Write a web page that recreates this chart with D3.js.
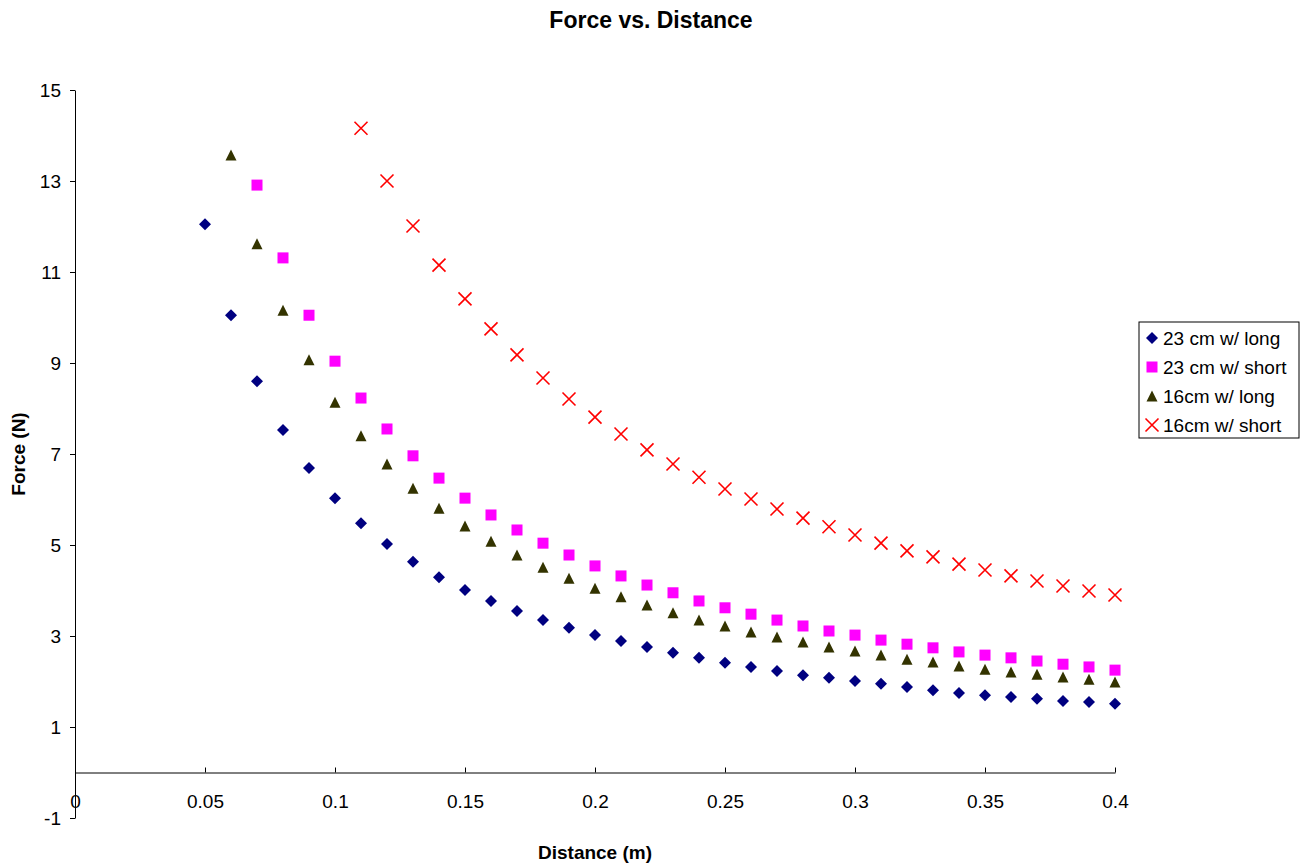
<!DOCTYPE html>
<html lang="en">
<head>
    <meta charset="UTF-8">
    <title>Force vs. Distance</title>
    <script src="https://cdn.jsdelivr.net/npm/d3@7"></script>
    <style>
        body { margin: 0; background: #FFFFFF; }
        text { font-family: Arial, "Liberation Sans", sans-serif; fill: #000000; }
        .axis path, .axis line { stroke: #000000; stroke-width: 1px; }
        .axis text { font-size: 19px; }
    </style>
</head>
<body>
    <div id="canvas"></div>

    <script>
        // data
        const distance = [0.05, 0.06, 0.07, 0.08, 0.09, 0.1, 0.11, 0.12, 0.13, 0.14, 0.15,
            0.16, 0.17, 0.18, 0.19, 0.2, 0.21, 0.22, 0.23, 0.24, 0.25, 0.26, 0.27, 0.28,
            0.29, 0.3, 0.31, 0.32, 0.33, 0.34, 0.35, 0.36, 0.37, 0.38, 0.39, 0.4];

        // 23 cm w/ long  (0.05 .. 0.4)
        const long23 = [12.05, 10.05, 8.6, 7.53, 6.69, 6.03, 5.48, 5.02, 4.63, 4.29, 4.01,
            3.77, 3.55, 3.35, 3.18, 3.02, 2.89, 2.76, 2.63, 2.52, 2.41, 2.32, 2.23, 2.14,
            2.08, 2.01, 1.95, 1.88, 1.81, 1.75, 1.70, 1.66, 1.62, 1.57, 1.55, 1.51];

        // 23 cm w/ short (0.07 .. 0.4)
        const short23 = [null, null, 12.91, 11.31, 10.05, 9.04, 8.23, 7.55, 6.96, 6.47, 6.03,
            5.66, 5.33, 5.04, 4.78, 4.54, 4.32, 4.12, 3.95, 3.77, 3.62, 3.48, 3.35, 3.22,
            3.11, 3.02, 2.91, 2.82, 2.74, 2.65, 2.58, 2.52, 2.45, 2.38, 2.32, 2.25];

        // 16cm w/ long (0.06 .. 0.4)
        const long16 = [null, 13.57, 11.62, 10.16, 9.07, 8.14, 7.4, 6.78, 6.25, 5.81, 5.42,
            5.08, 4.78, 4.51, 4.27, 4.05, 3.86, 3.68, 3.51, 3.35, 3.22, 3.09, 2.98, 2.87,
            2.76, 2.67, 2.58, 2.49, 2.43, 2.34, 2.27, 2.21, 2.16, 2.10, 2.05, 1.99];

        // 16cm w/ short (0.11 .. 0.4)
        const short16 = [null, null, null, null, null, null, 14.16, 13.0, 12.01, 11.15, 10.41,
            9.75, 9.18, 8.67, 8.21, 7.81, 7.44, 7.09, 6.78, 6.49, 6.23, 6.01, 5.79, 5.59,
            5.40, 5.22, 5.04, 4.87, 4.74, 4.58, 4.45, 4.32, 4.21, 4.10, 3.99, 3.90];

        const seriesNames = ['23 cm w/ long', '23 cm w/ short', '16cm w/ long', '16cm w/ short'];
        const seriesValues = [long23, short23, long16, short16];
        const seriesColors = ['#000080', '#FF00FF', '#333300', '#FF0000'];
        const seriesShapes = ['diamond', 'square', 'triangle', 'cross'];

        const xTicks = [0, 0.05, 0.1, 0.15, 0.2, 0.25, 0.3, 0.35, 0.4];
        const yTicks = [-1, 1, 3, 5, 7, 9, 11, 13, 15];
    </script>

    <script>
        const width = 1304;
        const height = 863;
        const plot = { left: 75, right: 1115, top: 90, bottom: 818 };

        const svg = d3.select('#canvas')
            .append('svg')
            .attr('width', width)
            .attr('height', height);

        const x = d3.scaleLinear().domain([0, 0.4]).range([plot.left, plot.right]);
        const y = d3.scaleLinear().domain([-1, 15]).range([plot.bottom, plot.top]);

        // title
        svg.append('text')
            .attr('x', 651)
            .attr('y', 28)
            .attr('text-anchor', 'middle')
            .style('font-size', '23px')
            .style('font-weight', 'bold')
            .text('Force vs. Distance');

        // y axis
        svg.append('g')
            .attr('class', 'axis')
            .attr('transform', `translate(${plot.left},0)`)
            .call(d3.axisLeft(y).tickValues(yTicks).tickSize(5).tickSizeOuter(0).tickPadding(9)
                .tickFormat(d => String(d)))
            .call(g => g.selectAll('text').attr('dy', '0.35em'));

        // x axis at zero, ticks pointing up, labels under
        const xAxis = svg.append('g')
            .attr('class', 'axis')
            .attr('transform', `translate(0,${y(0)})`)
            .call(d3.axisTop(x).tickValues(xTicks).tickSize(5).tickSizeOuter(0)
                .tickFormat(d => String(d)));
        xAxis.selectAll('text')
            .attr('y', 35)
            .attr('dy', 0);

        // axis titles
        svg.append('text')
            .attr('transform', 'translate(25,454) rotate(-90)')
            .attr('text-anchor', 'middle')
            .style('font-size', '19px')
            .style('font-weight', 'bold')
            .text('Force (N)');

        svg.append('text')
            .attr('x', 595)
            .attr('y', 859)
            .attr('text-anchor', 'middle')
            .style('font-size', '19px')
            .style('font-weight', 'bold')
            .text('Distance (m)');

        // markers
        function drawMarker(g, shape, color, cx, cy, s) {
            if (shape === 'diamond') {
                g.append('path')
                    .attr('d', `M${cx},${cy - s}L${cx + s},${cy}L${cx},${cy + s}L${cx - s},${cy}Z`)
                    .attr('fill', color);
            } else if (shape === 'square') {
                g.append('rect')
                    .attr('x', cx - s).attr('y', cy - s)
                    .attr('width', 2 * s).attr('height', 2 * s)
                    .attr('fill', color);
            } else if (shape === 'triangle') {
                g.append('path')
                    .attr('d', `M${cx},${cy - s}L${cx + s},${cy + s}L${cx - s},${cy + s}Z`)
                    .attr('fill', color);
            } else {
                g.append('path')
                    .attr('d', `M${cx - s},${cy - s}L${cx + s},${cy + s}M${cx + s},${cy - s}L${cx - s},${cy + s}`)
                    .attr('stroke', color)
                    .attr('stroke-width', 1.6)
                    .attr('fill', 'none');
            }
        }

        const sizes = { diamond: 6, square: 5.5, triangle: 5.5, cross: 6.5 };

        seriesValues.forEach((vals, i) => {
            const g = svg.append('g');
            vals.forEach((v, j) => {
                if (v == null) return;
                drawMarker(g, seriesShapes[i], seriesColors[i], x(distance[j]), y(v), sizes[seriesShapes[i]]);
            });
        });

        // legend
        const legend = svg.append('g').attr('transform', 'translate(1139,322)');
        legend.append('rect')
            .attr('width', 160)
            .attr('height', 116)
            .attr('fill', '#FFFFFF')
            .attr('stroke', '#000000')
            .attr('stroke-width', 1);

        seriesNames.forEach((name, i) => {
            const cy = 16 + i * 29;
            drawMarker(legend, seriesShapes[i], seriesColors[i], 13, cy, sizes[seriesShapes[i]]);
            legend.append('text')
                .attr('x', 24)
                .attr('y', cy)
                .attr('dy', '0.35em')
                .style('font-size', '19px')
                .text(name);
        });
    </script>
</body>
</html>
